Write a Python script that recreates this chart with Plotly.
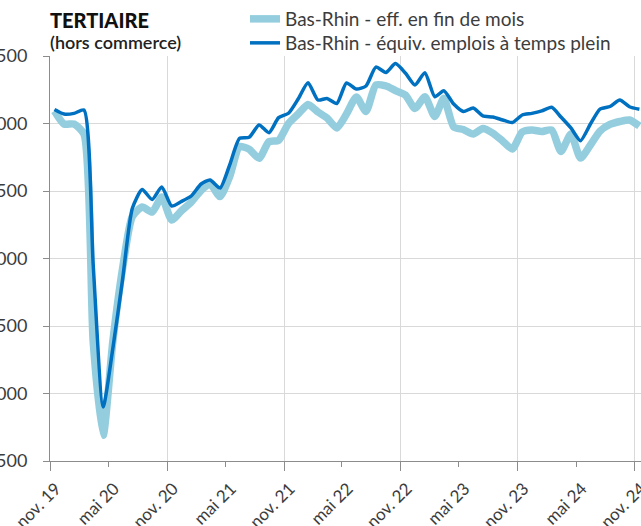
import plotly.graph_objects as go

# Monthly data, nov. 2019 -> nov. 2024 (one point per month, mid-month)
start_year, start_month, n_months = 2019, 11, 61
months = []
y, m = start_year, start_month
for _ in range(n_months):
    months.append(f"{y}-{m:02d}-15")
    m += 1
    if m > 12:
        m = 1
        y += 1

eff_fin_de_mois = [
    3093, 2996, 2996, 2922, 1380, 690, 1380, 1930, 2310, 2381,
    2344, 2455, 2285, 2352, 2418, 2504, 2552, 2459, 2605, 2828,
    2809, 2742, 2865, 2875, 3000, 3070, 3140, 3085, 3041, 2967,
    3070, 3196, 3089, 3285, 3278, 3244, 3211, 3111, 3198, 3052,
    3187, 2974, 2955, 2922, 2963, 2929, 2870, 2811, 2937, 2952,
    2941, 2952, 2793, 2922, 2744, 2841, 2944, 2993, 3015, 3026,
    2981,
]
equiv_temps_plein = [
    3104, 3070, 3075, 3100, 1950, 900, 1330, 1850, 2370, 2511,
    2437, 2530, 2389, 2422, 2463, 2552, 2581, 2522, 2692, 2890,
    2898, 2989, 2932, 3043, 3076, 3181, 3302, 3174, 3185, 3148,
    3300, 3255, 3278, 3418, 3378, 3444, 3374, 3285, 3376, 3198,
    3243, 3144, 3089, 3115, 3056, 3048, 3026, 3007, 3063, 3075,
    3093, 3120, 3048, 2967, 2873, 2996, 3107, 3126, 3174, 3124,
    3105,
]

tick_dates = ["2019-11-01", "2020-05-01", "2020-11-01", "2021-05-01", "2021-11-01",
              "2022-05-01", "2022-11-01", "2023-05-01", "2023-11-01", "2024-05-01",
              "2024-11-01"]
tick_labels = ["nov. 19", "mai 20", "nov. 20", "mai 21", "nov. 21", "mai 22",
               "nov. 22", "mai 23", "nov. 23", "mai 24", "nov. 24"]
grid_dates = ["2019-11-01", "2020-11-01", "2021-11-01", "2022-11-01", "2023-11-01",
              "2024-11-01"]

FONT = "Lato"
LIGHT = "#94CEDE"
DARK = "#0070C0"
AXIS = "#8C8C8C"
GRID = "#D9D9D9"
TXT = "#3C3C3C"

fig = go.Figure()
fig.add_trace(go.Scatter(
    x=months, y=eff_fin_de_mois, mode="lines",
    name="Bas-Rhin - eff. en fin de mois", legend="legend",
    line=dict(color=LIGHT, width=7.5, shape="spline", smoothing=0.6),
))
fig.add_trace(go.Scatter(
    x=months, y=equiv_temps_plein, mode="lines",
    name="Bas-Rhin - équiv. emplois à temps plein", legend="legend2",
    line=dict(color=DARK, width=3.5, shape="spline", smoothing=0.6),
))

legend_common = dict(
    xref="container", yref="container", xanchor="left", yanchor="top",
    font=dict(family=FONT, size=19, color=TXT),
    bgcolor="rgba(0,0,0,0)", itemwidth=30,
)

fig.update_layout(
    width=641, height=526,
    margin=dict(l=50, r=0, t=56, b=65, autoexpand=False),
    paper_bgcolor="white", plot_bgcolor="white",
    separators=", ",
    font=dict(family=FONT, size=16, color=TXT),
    showlegend=True,
    legend=dict(legend_common, x=245 / 641, y=1.0),
    legend2=dict(legend_common, x=245 / 641, y=1 - 24 / 526),
    xaxis=dict(
        type="date",
        range=["2019-11-01", "2024-11-20"],
        tickmode="array", tickvals=tick_dates, ticktext=tick_labels,
        tickangle=-45, ticks="outside", ticklen=5, tickcolor=AXIS,
        tickfont=dict(family=FONT, size=17, color=TXT),
        ticklabelstandoff=5, ticklabelshift=6, ticklabeloverflow="allow",
        showgrid=False, showline=True, linecolor=AXIS, linewidth=1,
        zeroline=False, automargin=False,
        minor=dict(tickmode="array", tickvals=grid_dates, showgrid=True,
                   gridcolor=GRID, gridwidth=1, ticks="outside", ticklen=9,
                   tickcolor=AXIS),
    ),
    yaxis=dict(
        range=[500, 3500], tick0=500, dtick=500, tickformat=",d",
        ticks="outside", ticklen=6, tickcolor=AXIS,
        tickfont=dict(family=FONT, size=18, color=TXT),
        ticklabelstandoff=12, ticklabeloverflow="allow",
        showgrid=True, gridcolor=GRID, gridwidth=1,
        showline=True, linecolor=AXIS, linewidth=1,
        zeroline=False, automargin=False,
    ),
    annotations=[
        dict(text="TERTIAIRE", xref="paper", yref="paper", x=0, y=(461 - 20) / 405,
             xanchor="left", yanchor="middle", showarrow=False, xshift=-2,
             font=dict(family=FONT, size=20, color="#111111", weight=900)),
        dict(text="(hors commerce)", xref="paper", yref="paper", x=0, y=(461 - 42) / 405,
             xanchor="left", yanchor="middle", showarrow=False, xshift=-2,
             font=dict(family=FONT, size=18, color="#222222", weight=600)),
    ],
)

fig.write_html("out.html", config={"displayModeBar": False},
               post_script="document.body.style.margin='0';")
